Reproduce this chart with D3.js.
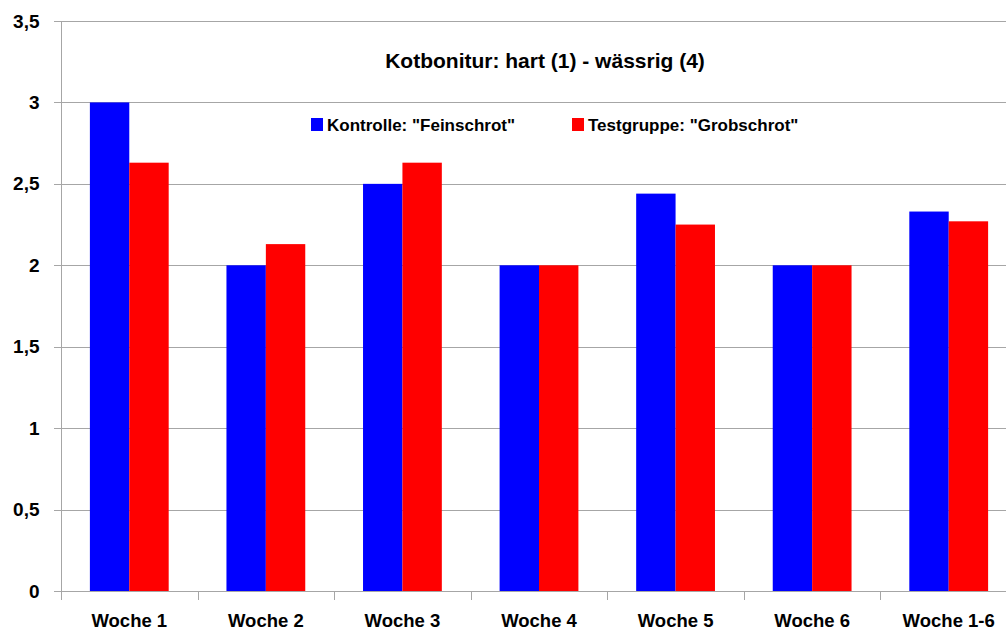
<!DOCTYPE html>
<meta charset="utf-8">
<style>
    body {
        margin: 0;
        background: #fff;
    }

    svg text {
        font-family: "Liberation Sans", Arial, sans-serif;
        font-weight: bold;
        fill: #000;
    }

    .grid line {
        stroke: #a6a6a6;
        shape-rendering: crispEdges;
    }

    .axis path,
    .axis line {
        stroke: #a6a6a6;
        shape-rendering: crispEdges;
    }
</style>

<body>
    <script src="https://d3js.org/d3.v7.min.js"></script>
    <script>

        var categories = ["Woche 1", "Woche 2", "Woche 3", "Woche 4", "Woche 5", "Woche 6", "Woche 1-6"];
        var seriesNames = ['Kontrolle: "Feinschrot"', 'Testgruppe: "Grobschrot"'];
        var kontrolle = [3.0, 2.0, 2.5, 2.0, 2.44, 2.0, 2.33];
        var testgruppe = [2.63, 2.13, 2.63, 2.0, 2.25, 2.0, 2.27];
        var yTicks = [0, 0.5, 1, 1.5, 2, 2.5, 3, 3.5];
        var colors = ["#0000ff", "#ff0000"];

        var width = 1006, height = 632;
        var plotLeft = 61, plotRight = 1017, plotTop = 21, plotBottom = 591;

        var svg = d3.select("body").append("svg")
            .attr("width", width)
            .attr("height", height);

        // bar pair position inside each category
        var x = d3.scaleBand()
            .domain(categories)
            .range([plotLeft, plotRight])
            .paddingInner(0.423)
            .paddingOuter(0.2115);

        // the full category band (tick to tick)
        var band = (plotRight - plotLeft) / categories.length;
        var xb = d3.scaleBand().domain(categories).range([plotLeft, plotRight]);

        var x1 = d3.scaleBand()
            .domain([0, 1])
            .range([0, x.bandwidth()]);

        var y = d3.scaleLinear()
            .domain([0, 3.5])
            .range([plotBottom, plotTop]);

        // gridlines
        svg.append("g")
            .attr("class", "grid")
            .selectAll("line")
            .data(yTicks.slice(1))
            .enter()
            .append("line")
            .attr("x1", plotLeft)
            .attr("x2", plotRight)
            .attr("y1", function (d) { return Math.round(y(d)) + 0.5; })
            .attr("y2", function (d) { return Math.round(y(d)) + 0.5; });

        var series = [kontrolle, testgruppe];

        var groups = svg.append("g")
            .selectAll("g")
            .data(categories)
            .enter()
            .append("g")
            .attr("transform", function (d) {
                return "translate(" + x(d) + ",0)";
            });

        groups.selectAll("rect")
            .data(function (d, i) {
                return series.map(function (s, k) { return { k: k, v: s[i] }; });
            })
            .enter()
            .append("rect")
            .attr("x", function (d) { return x1(d.k); })
            .attr("y", function (d) { return y(d.v); })
            .attr("width", x1.bandwidth())
            .attr("height", function (d) { return plotBottom - y(d.v); })
            .attr("fill", function (d) { return colors[d.k]; });

        // y axis
        var yAxis = svg.append("g")
            .attr("class", "axis")
            .attr("transform", "translate(" + (plotLeft + 0.5) + ",0)")
            .call(d3.axisLeft(y)
                .tickValues(yTicks)
                .tickSize(8)
                .tickPadding(14)
                .tickFormat(function (d) { return String(d).replace(".", ","); }));
        yAxis.selectAll("text")
            .style("font-size", "19px");
        yAxis.select(".domain").attr("d", "M0," + plotTop + "V" + plotBottom);

        // x axis
        var xAxis = svg.append("g")
            .attr("class", "axis")
            .attr("transform", "translate(0," + (plotBottom + 0.5) + ")")
            .call(d3.axisBottom(xb).tickSize(0).tickPadding(22));
        xAxis.selectAll("text")
            .style("font-size", "18.5px");
        xAxis.select(".domain").attr("d", "M" + plotLeft + ",0H" + plotRight);

        // tick marks between categories
        xAxis.selectAll(".sep")
            .data(d3.range(categories.length + 1))
            .enter()
            .append("line")
            .attr("x1", function (i) { return Math.round(plotLeft + i * band) + 0.5; })
            .attr("x2", function (i) { return Math.round(plotLeft + i * band) + 0.5; })
            .attr("y1", 0)
            .attr("y2", 8);

        // title
        svg.append("text")
            .attr("x", 545)
            .attr("y", 68)
            .attr("text-anchor", "middle")
            .style("font-size", "21px")
            .text("Kotbonitur: hart (1) - wässrig (4)");

        // legend
        var legendX = [311, 572];
        var legend = svg.append("g")
            .selectAll("g")
            .data(seriesNames)
            .enter()
            .append("g")
            .attr("transform", function (d, i) {
                return "translate(" + legendX[i] + ",118)";
            });

        legend.append("rect")
            .attr("width", 12)
            .attr("height", 13)
            .attr("fill", function (d, i) { return colors[i]; });

        legend.append("text")
            .attr("x", 16)
            .attr("y", 13)
            .style("font-size", "17px")
            .text(function (d) { return d; });

    </script>
</body>
